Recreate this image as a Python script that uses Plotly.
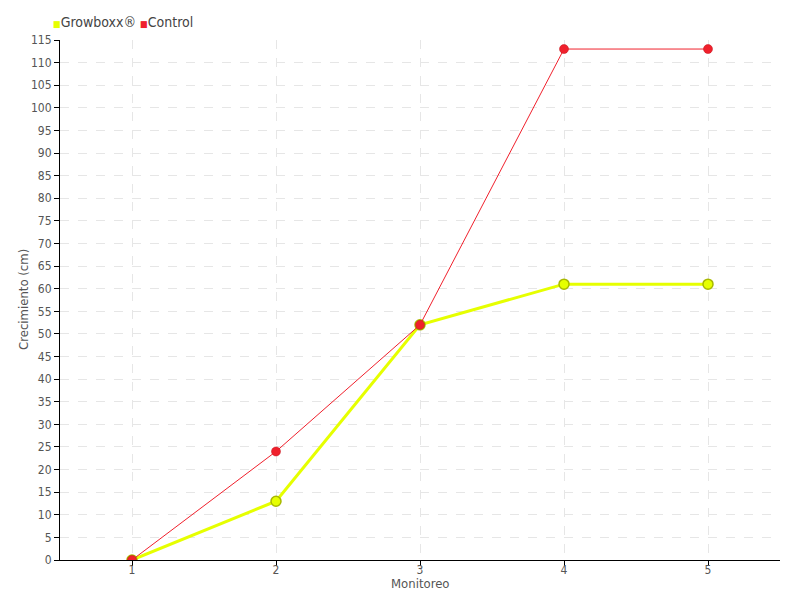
import plotly.graph_objects as go

monitoreo = [1, 2, 3, 4, 5]
growboxx = [0, 13, 52, 61, 61]
control = [0, 24, 52, 113, 113]
y_ticks = list(range(0, 120, 5))

FONT = "DejaVu Sans Condensed, sans-serif"
YEL = "#e6ff00"
RED = "#f0202c"

fig = go.Figure()
fig.add_trace(go.Scatter(
    x=monitoreo, y=growboxx, mode="lines+markers", name="Growboxx®",
    line=dict(color=YEL, width=3),
    marker=dict(color=YEL, size=10, line=dict(color="#a8b800", width=1.5)),
    showlegend=False))
fig.add_trace(go.Scatter(
    x=monitoreo, y=control, mode="lines+markers", name="Control",
    line=dict(color=RED, width=1),
    marker=dict(color=RED, size=9, line=dict(color="#c01018", width=0.5)),
    showlegend=False))

# page body has an 8px offset; compensate in margins
fig.update_layout(
    width=800, height=600,
    margin=dict(l=52, r=28, t=32, b=48),
    paper_bgcolor="white", plot_bgcolor="white",
    font=dict(family=FONT, size=12, color="#555555"),
    showlegend=False,
    xaxis=dict(range=[0.5, 5.5], tickvals=monitoreo, ticktext=[str(v) for v in monitoreo],
               showline=True, linecolor="black", linewidth=1, ticks="outside",
               ticklen=5, tickcolor="black", showgrid=True, gridcolor="#e6e6e6",
               griddash="dash", zeroline=False, automargin=False,
               ticklabelstandoff=-6, tickfont=dict(size=12)),
    yaxis=dict(range=[0, 115], tickvals=y_ticks, showline=True, linecolor="black",
               linewidth=1, ticks="outside", ticklen=5, tickcolor="black",
               showgrid=True, gridcolor="#e6e6e6", griddash="dash", zeroline=False,
               automargin=False, tickfont=dict(size=12)),
    annotations=[
        dict(text=f'<span style="color:{YEL};font-size:9px">■</span>Growboxx® '
                  f'<span style="color:{RED};font-size:9px">■</span>Control',
             xref="paper", yref="paper", x=-0.012, y=1.0, yshift=18,
             xanchor="left", yanchor="middle", showarrow=False,
             font=dict(size=14, color="#444444")),
        dict(text="Monitoreo", xref="paper", yref="paper", x=0.5, y=0, yshift=-23,
             xanchor="center", yanchor="middle", showarrow=False,
             font=dict(size=13, color="#555555")),
        dict(text="Crecimiento (cm)", xref="paper", yref="paper", x=0, xshift=-37,
             y=0.5, xanchor="center", yanchor="middle", textangle=-90, showarrow=False,
             font=dict(size=13, color="#555555")),
    ],
)
fig.write_html("out.html")
